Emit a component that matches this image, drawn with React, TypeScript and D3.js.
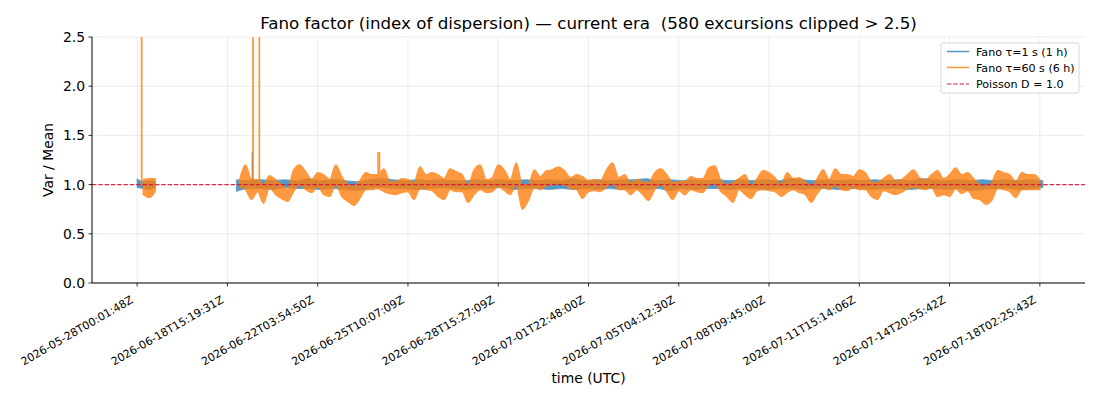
import React from "react";
import * as d3 from "d3";

// ---------- data ----------
const tickLabels = [
  "2026-05-28T00:01:48Z",
  "2026-06-18T15:19:31Z",
  "2026-06-22T03:54:50Z",
  "2026-06-25T10:07:09Z",
  "2026-06-28T15:27:09Z",
  "2026-07-01T22:48:00Z",
  "2026-07-05T04:12:30Z",
  "2026-07-08T09:45:00Z",
  "2026-07-11T15:14:06Z",
  "2026-07-14T20:55:42Z",
  "2026-07-18T02:25:43Z",
];
const samplesPerTick = 30;
const yTicks = [0, 0.5, 1.0, 1.5, 2.0, 2.5];
const poissonD = 1.0;
const clipMax = 2.5;

// Fano tau=60 s (6 h) envelope (max / min per window)
const orangeSeg1Start = 2;
const orangeSeg1Step = 2;
const orangeSeg1Hi = [1.05, 1.06, 1.06];
const orangeSeg1Lo = [0.9, 0.87, 0.93];

const orangeMainStart = 34;
const orangeMainStep = 2;
const orangeMainHi = [
  1.04, 1.2, 1.05, 1.05, 1.0, 1.09, 1.05, 1.0, 0.95, 1.15, 1.2, 1.13, 1.05, 1.12, 1.1, 1.05, 1.2,
  1.08, 1.0, 0.98, 1.04, 1.12, 1.1, 1.1, 1.16, 1.03, 1.03, 1.06, 1.05, 1.02, 1.18, 1.1, 1.12, 1.1,
  1.06, 1.16, 1.13, 1.1, 1.0, 1.15, 1.2, 1.05, 1.07, 1.2, 1.15, 1.05, 1.22, 1.0, 1.0, 1.15,
  1.08, 1.14, 1.15, 1.18, 1.14, 1.07, 1.1, 1.08, 1.04, 1.05, 1.04, 1.15, 1.22, 1.07, 1.1, 1.02, 1.05,
  1.03, 1.02, 1.12, 1.16, 1.1, 1.02, 1.03, 1.03, 1.08, 1.06, 1.06, 1.17, 1.19, 1.04, 1.0, 1.02, 1.06,
  1.1, 0.99, 1.06, 1.14, 1.12, 1.07, 1.0, 1.12, 1.06, 1.07, 1.03, 0.98, 1.06, 1.15, 1.05, 1.16,
  1.1, 1.1, 1.08, 1.15, 1.12, 1.03, 1.02, 1.06, 1.1, 1.04, 1.05, 1.1, 1.15, 1.07, 1.05, 1.1, 1.14,
  1.06, 1.1, 1.17, 1.1, 1.12, 1.06, 1.0, 0.98, 1.02, 1.14, 1.12, 1.1, 1.03, 1.12, 1.1, 1.1, 1.05,
];
const orangeMainLo = [
  0.98, 0.95, 0.85, 0.93, 0.81, 0.97, 0.9, 0.86, 0.83, 0.93, 1.0, 0.95, 0.92, 0.98, 0.9, 0.88, 1.0,
  0.88, 0.83, 0.79, 0.86, 0.95, 0.95, 0.96, 0.93, 0.91, 0.9, 0.92, 0.93, 0.85, 0.96, 0.95, 0.94, 0.88,
  0.85, 0.95, 0.93, 0.93, 0.82, 0.9, 0.95, 0.92, 0.93, 0.98, 0.94, 0.9, 1.0, 0.75, 0.84, 0.97,
  0.95, 0.99, 1.0, 1.01, 1.0, 0.96, 0.95, 0.86, 0.93, 0.94, 0.93, 0.98, 1.01, 0.95, 0.95, 0.9, 0.95,
  0.9, 0.84, 0.95, 1.0, 0.93, 0.85, 0.94, 0.9, 0.95, 0.93, 0.92, 1.0, 1.01, 0.93, 0.88, 0.82, 0.95,
  0.9, 0.86, 0.94, 0.95, 0.94, 0.93, 0.88, 0.92, 0.95, 0.92, 0.9, 0.82, 0.91, 0.97, 0.95, 0.99,
  0.95, 0.94, 0.97, 0.95, 0.95, 0.88, 0.85, 0.94, 0.92, 0.9, 0.92, 0.96, 0.97, 0.96, 0.95, 0.97, 0.88,
  0.9, 0.88, 0.96, 0.91, 0.94, 0.86, 0.85, 0.8, 0.84, 0.96, 0.95, 0.93, 0.87, 0.95, 0.95, 0.95, 0.95,
];
const orangeSpikeAt = [1.5, 38.5, 40.6, 80.3];
const orangeSpikeVal = [3.0, 3.0, 3.0, 1.33];

// Fano tau=1 s (1 h) envelope
const blueSeg1Start = 0;
const blueSeg1Step = 2;
const blueSeg1Hi = [1.06, 1.03, 1.04, 1.03];
const blueSeg1Lo = [0.97, 0.96, 0.95, 0.97];

const blueMainStart = 33;
const blueMainStep = 4;
const blueMainHi = [
  1.05, 1.04, 1.05, 1.04, 1.05, 1.04, 1.06, 1.04, 1.05, 1.04, 1.03, 1.05, 1.06, 1.05, 1.04, 1.05, 1.04,
  1.05, 1.04, 1.04, 1.05, 1.04, 1.05, 1.04, 1.05, 1.04, 1.05, 1.04, 1.06, 1.04, 1.05, 1.04, 1.05, 1.05,
  1.06, 1.04, 1.05, 1.04, 1.05, 1.04, 1.05, 1.04, 1.05, 1.04, 1.05, 1.04, 1.06, 1.05, 1.04, 1.05, 1.04,
  1.05, 1.04, 1.05, 1.04, 1.05, 1.04, 1.06, 1.05, 1.04, 1.05, 1.04, 1.05, 1.04, 1.05, 1.04, 1.05, 1.04,
];
const blueMainLo = [
  0.93, 0.96, 0.96, 0.95, 0.97, 0.96, 0.96, 0.95, 0.96, 0.95, 0.94, 0.96, 0.97, 0.96, 0.96, 0.95, 0.96,
  0.97, 0.96, 0.95, 0.96, 0.96, 0.97, 0.95, 0.96, 0.96, 0.95, 0.96, 0.95, 0.96, 0.95, 0.96, 0.95, 0.96,
  0.95, 0.96, 0.94, 0.96, 0.95, 0.96, 0.96, 0.95, 0.96, 0.96, 0.95, 0.96, 0.96, 0.95, 0.96, 0.96, 0.95,
  0.96, 0.96, 0.95, 0.96, 0.96, 0.95, 0.96, 0.96, 0.95, 0.96, 0.94, 0.95, 0.96, 0.96, 0.95, 0.96, 0.97,
];
const blueSpikeAt = [38.3];
const blueSpikeVal = [1.33];

// ---------- layout ----------
const W = 1100;
const H = 400;
const M = { left: 92, right: 1085, top: 37, bottom: 283 };
const FONT = "DejaVu Sans, sans-serif";
const BLUE = "#1f77b4";
const ORANGE = "#ff7f0e";
const RED = "#dc143c";

type Pt = { i: number; hi: number; lo: number };
function band(start: number, step: number, hi: number[], lo: number[]): Pt[] {
  return hi.map((h, k) => ({ i: start + k * step, hi: h, lo: lo[k] }));
}

export default function App() {
  const nTicks = tickLabels.length;
  const x = d3
    .scaleLinear()
    .domain([-samplesPerTick / 2, (nTicks - 1) * samplesPerTick + samplesPerTick / 2])
    .range([M.left, M.right]);
  const y = d3.scaleLinear().domain([0, clipMax]).range([M.bottom, M.top]);

  const area = d3
    .area<Pt>()
    .x((d) => x(d.i))
    .y0((d) => y(d.lo))
    .y1((d) => y(d.hi))
    .curve(d3.curveMonotoneX);

  const blueBands = [
    band(blueSeg1Start, blueSeg1Step, blueSeg1Hi, blueSeg1Lo),
    band(blueMainStart, blueMainStep, blueMainHi, blueMainLo),
  ];
  const orangeBands = [
    band(orangeSeg1Start, orangeSeg1Step, orangeSeg1Hi, orangeSeg1Lo),
    band(orangeMainStart, orangeMainStep, orangeMainHi, orangeMainLo),
  ];
  const xTickPos = tickLabels.map((_, k) => k * samplesPerTick);

  return (
    <svg
      width={W}
      height={H}
      style={{ position: "absolute", left: 0, top: 0, background: "#fff" }}
      fontFamily={FONT}
    >
      <defs>
        <clipPath id="plot">
          <rect x={M.left} y={M.top} width={M.right - M.left} height={M.bottom - M.top} />
        </clipPath>
      </defs>

      {/* grid */}
      <g stroke="#b0b0b0" strokeOpacity={0.3} strokeWidth={0.8}>
        {yTicks.map((t) => (
          <line key={"gy" + t} x1={M.left} x2={M.right} y1={y(t)} y2={y(t)} />
        ))}
        {xTickPos.map((p) => (
          <line key={"gx" + p} x1={x(p)} x2={x(p)} y1={M.top} y2={M.bottom} />
        ))}
      </g>

      <g clipPath="url(#plot)">
        {/* blue series */}
        <g opacity={0.75}>
          {blueBands.map((b, k) => (
            <path key={"b" + k} d={area(b) || ""} fill={BLUE} stroke={BLUE} strokeWidth={0.8} />
          ))}
          {blueSpikeAt.map((p, k) => (
            <line
              key={"bs" + k}
              x1={x(p)}
              x2={x(p)}
              y1={y(poissonD)}
              y2={y(blueSpikeVal[k])}
              stroke={BLUE}
              strokeWidth={1.5}
            />
          ))}
        </g>
        {/* orange series */}
        <g opacity={0.8}>
          {orangeBands.map((b, k) => (
            <path key={"o" + k} d={area(b) || ""} fill={ORANGE} stroke={ORANGE} strokeWidth={1.4} strokeLinejoin="round" />
          ))}
          {orangeSpikeAt.map((p, k) => (
            <line
              key={"os" + k}
              x1={x(p)}
              x2={x(p)}
              y1={y(poissonD)}
              y2={y(orangeSpikeVal[k])}
              stroke={ORANGE}
              strokeWidth={k === 3 ? 3 : 1.8}
            />
          ))}
        </g>
        {/* Poisson reference */}
        <line
          x1={M.left}
          x2={M.right}
          y1={y(poissonD)}
          y2={y(poissonD)}
          stroke={RED}
          strokeWidth={1.2}
          strokeDasharray="4.4,1.9"
          opacity={0.9}
        />
      </g>

      {/* axes */}
      <line x1={M.left} x2={M.left} y1={M.top} y2={M.bottom} stroke="#000" strokeWidth={1} />
      <line x1={M.left} x2={M.right} y1={M.bottom} y2={M.bottom} stroke="#000" strokeWidth={1} />
      {yTicks.map((t) => (
        <g key={"yt" + t}>
          <line x1={M.left - 3.5} x2={M.left} y1={y(t)} y2={y(t)} stroke="#000" strokeWidth={0.8} />
          <text x={M.left - 7} y={y(t)} dy="0.36em" textAnchor="end" fontSize={13.9} fill="#000">
            {t.toFixed(1)}
          </text>
        </g>
      ))}
      {xTickPos.map((p, k) => (
        <g key={"xt" + p}>
          <line x1={x(p)} x2={x(p)} y1={M.bottom} y2={M.bottom + 3.5} stroke="#000" strokeWidth={0.8} />
          <text
            transform={`translate(${x(p) - 3},${M.bottom + 19}) rotate(-30)`}
            textAnchor="end"
            fontSize={11}
            fill="#000"
          >
            {tickLabels[k]}
          </text>
        </g>
      ))}

      {/* labels */}
      <text x={(M.left + M.right) / 2} y={29} textAnchor="middle" fontSize={16.7} fill="#000" style={{ whiteSpace: "pre" }}>
        {"Fano factor (index of dispersion) — current era  (580 excursions clipped > 2.5)"}
      </text>
      <text x={(M.left + M.right) / 2} y={383} textAnchor="middle" fontSize={13.9} fill="#000">
        time (UTC)
      </text>
      <text
        transform={`translate(53,${(M.top + M.bottom) / 2}) rotate(-90)`}
        textAnchor="middle"
        fontSize={13.9}
        fill="#000"
      >
        Var / Mean
      </text>

      {/* legend */}
      <g>
        <rect x={941} y={43} width={138} height={50} rx={2} fill="#fff" fillOpacity={0.8} stroke="#cccccc" strokeWidth={0.8} />
        <line x1={947} x2={969} y1={51.5} y2={51.5} stroke={BLUE} strokeOpacity={0.75} strokeWidth={1.5} />
        <text x={976} y={55.5} fontSize={11.1} fill="#000">Fano τ=1 s (1 h)</text>
        <line x1={947} x2={969} y1={67.5} y2={67.5} stroke={ORANGE} strokeOpacity={0.8} strokeWidth={1.5} />
        <text x={976} y={71.5} fontSize={11.1} fill="#000">Fano τ=60 s (6 h)</text>
        <line x1={947} x2={969} y1={84} y2={84} stroke={RED} strokeWidth={1.2} strokeDasharray="4.4,1.9" />
        <text x={976} y={88} fontSize={11.1} fill="#000">Poisson D = 1.0</text>
      </g>
    </svg>
  );
}
